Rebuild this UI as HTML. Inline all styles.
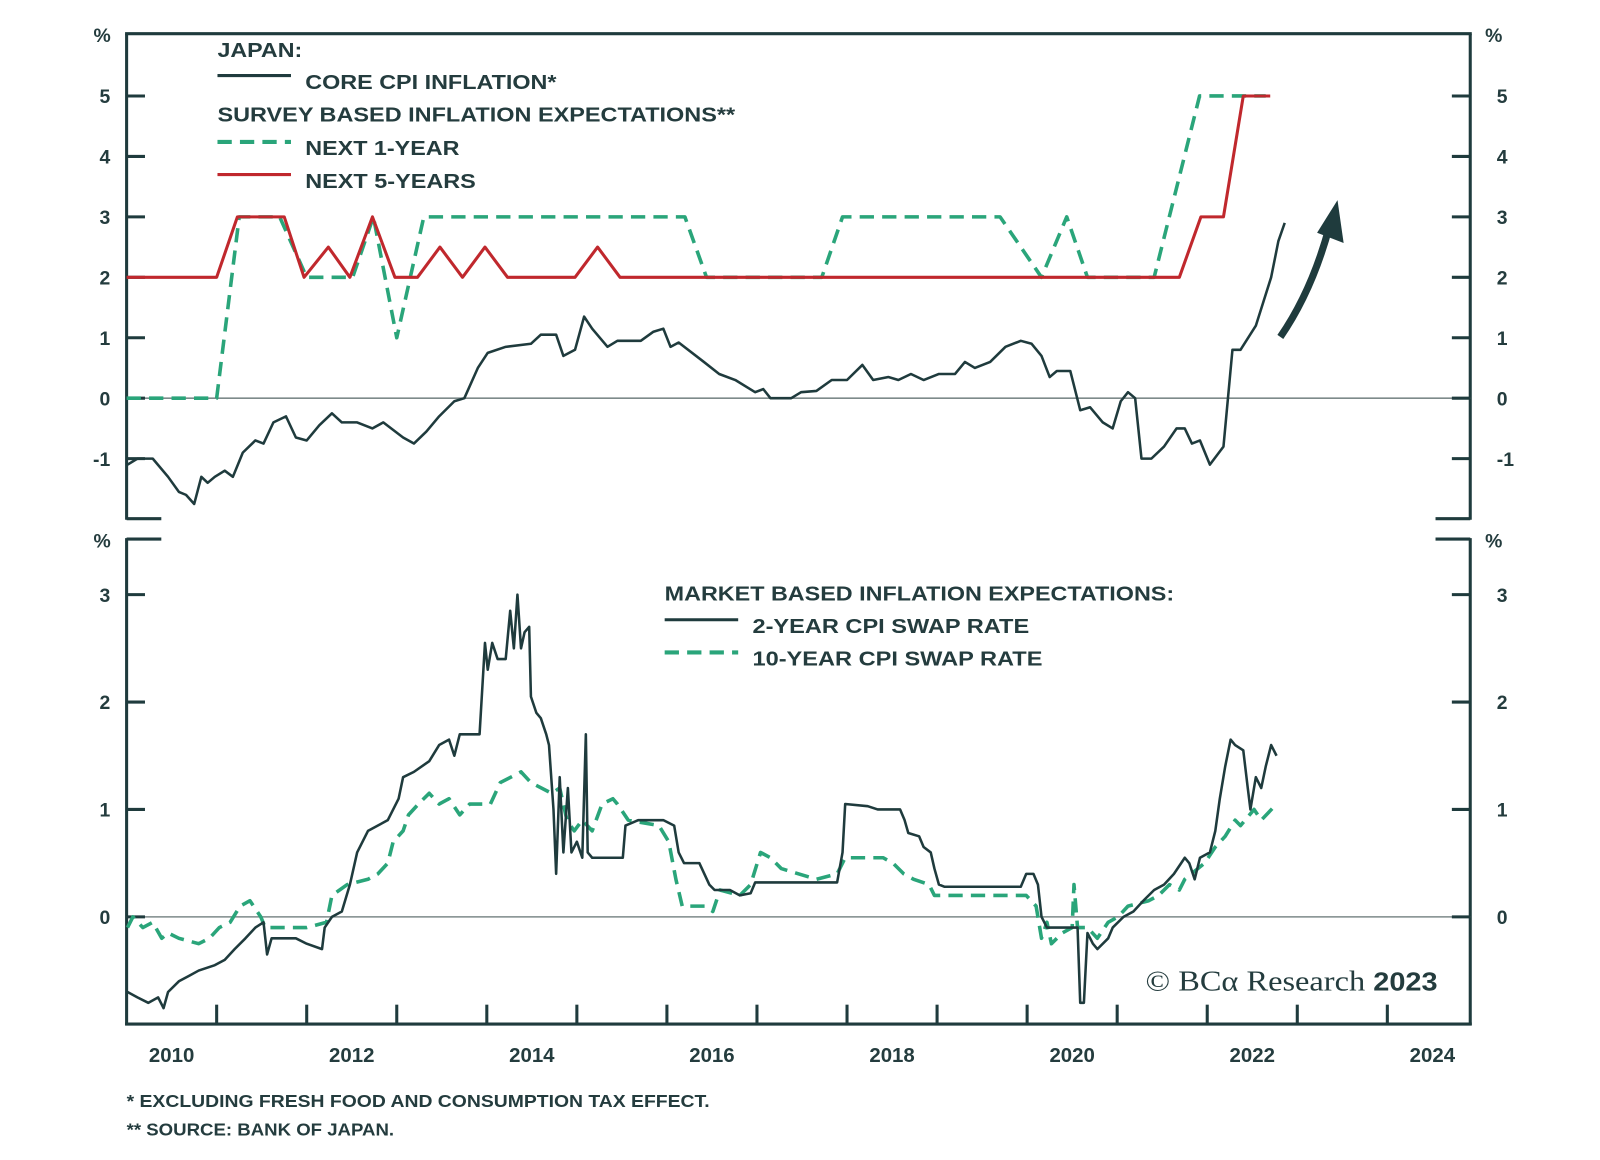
<!DOCTYPE html>
<html><head><meta charset="utf-8">
<style>
html,body{margin:0;padding:0;background:#fff;}
svg{display:block;font-family:"Liberation Sans",sans-serif;}
.t{fill:#243c3e;font-weight:bold;}
</style></head>
<body>
<svg id="chart" width="1600" height="1160" viewBox="0 0 1600 1160" xmlns="http://www.w3.org/2000/svg">
<g transform="scale(1.021)">
<g id="frame"></g>
<g id="marks"></g>
<g id="labels"></g>
<g>
  <text class="t" x="213" y="56" font-size="20" textLength="83" lengthAdjust="spacingAndGlyphs">JAPAN:</text>
  <line x1="213" y1="74" x2="285" y2="74" stroke="#1f3b3d" stroke-width="3"/>
  <text class="t" x="299" y="87" font-size="20" textLength="246" lengthAdjust="spacingAndGlyphs">CORE CPI INFLATION*</text>
  <text class="t" x="213" y="119" font-size="20" textLength="507" lengthAdjust="spacingAndGlyphs">SURVEY BASED INFLATION EXPECTATIONS**</text>
  <line x1="213" y1="139" x2="285" y2="139" stroke="#2aa57a" stroke-width="4" stroke-dasharray="14,8"/>
  <text class="t" x="299" y="152" font-size="20" textLength="151" lengthAdjust="spacingAndGlyphs">NEXT 1-YEAR</text>
  <line x1="213" y1="171" x2="285" y2="171" stroke="#c0282d" stroke-width="3"/>
  <text class="t" x="299" y="184" font-size="20" textLength="167" lengthAdjust="spacingAndGlyphs">NEXT 5-YEARS</text>
</g>
<g>
  <text class="t" x="651" y="588" font-size="20" textLength="499" lengthAdjust="spacingAndGlyphs">MARKET BASED INFLATION EXPECTATIONS:</text>
  <line x1="651" y1="607" x2="723" y2="607" stroke="#1f3b3d" stroke-width="3"/>
  <text class="t" x="737" y="620" font-size="20" textLength="271" lengthAdjust="spacingAndGlyphs">2-YEAR CPI SWAP RATE</text>
  <line x1="651" y1="639" x2="723" y2="639" stroke="#2aa57a" stroke-width="4" stroke-dasharray="14,8"/>
  <text class="t" x="737" y="652" font-size="20" textLength="284" lengthAdjust="spacingAndGlyphs">10-YEAR CPI SWAP RATE</text>
</g>
<text x="1122" y="970" font-size="28" fill="#243c3e" font-family="Liberation Serif,serif" textLength="286" lengthAdjust="spacingAndGlyphs">© BCα Research <tspan font-family="Liberation Sans,sans-serif" font-weight="bold" font-size="25">2023</tspan></text>
<text class="t" x="124" y="1084" font-size="17" textLength="571" lengthAdjust="spacingAndGlyphs">*  EXCLUDING FRESH FOOD AND CONSUMPTION TAX EFFECT.</text>
<text class="t" x="124" y="1112" font-size="17" textLength="262" lengthAdjust="spacingAndGlyphs">** SOURCE: BANK OF JAPAN.</text>
<g>
  <path d="M1254,330 Q1285,285 1302,222" fill="none" stroke="#1f3b3d" stroke-width="7"/>
  <polygon points="1310,196 1316,238 1290,228" fill="#1f3b3d"/>
</g>
</g>
</svg>
<script>
// ---- data (t = years since Jan 2010) ----
const cpiT=[0.01,0.12,0.29,0.46,0.58,0.66,0.75,0.83,0.9,0.98,1.09,1.18,1.29,1.43,1.52,1.63,1.77,1.88,2.0,2.14,2.28,2.39,2.56,2.73,2.85,3.07,3.19,3.33,3.47,3.64,3.75,3.9,4.01,4.21,4.49,4.6,4.77,4.85,4.98,5.08,5.17,5.34,5.45,5.71,5.85,5.96,6.04,6.13,6.41,6.58,6.76,6.98,7.07,7.15,7.38,7.49,7.66,7.83,8.0,8.17,8.29,8.46,8.57,8.71,8.85,9.02,9.2,9.31,9.42,9.59,9.76,9.93,10.05,10.16,10.25,10.33,10.48,10.59,10.7,10.84,10.95,11.04,11.12,11.2,11.27,11.38,11.52,11.66,11.75,11.83,11.92,12.03,12.18,12.28,12.37,12.54,12.71,12.79,12.86];
const cpiV=[-1.1,-1.0,-1.0,-1.3,-1.55,-1.6,-1.75,-1.3,-1.4,-1.3,-1.2,-1.3,-0.9,-0.7,-0.75,-0.4,-0.3,-0.65,-0.7,-0.45,-0.25,-0.4,-0.4,-0.5,-0.4,-0.65,-0.75,-0.55,-0.3,-0.05,0.0,0.5,0.75,0.85,0.9,1.05,1.05,0.7,0.8,1.35,1.15,0.85,0.95,0.95,1.1,1.15,0.85,0.92,0.6,0.4,0.3,0.1,0.15,0.0,0.0,0.1,0.12,0.3,0.3,0.55,0.3,0.35,0.3,0.4,0.3,0.4,0.4,0.6,0.5,0.6,0.85,0.95,0.9,0.7,0.35,0.45,0.45,-0.2,-0.15,-0.4,-0.5,-0.05,0.1,0.0,-1.0,-1.0,-0.8,-0.5,-0.5,-0.75,-0.7,-1.1,-0.8,0.8,0.8,1.2,2.0,2.6,2.9];
const y1T=[0,1.0,1.25,1.7,2.0,2.51,2.74,3.0,3.3,6.2,6.44,7.72,7.95,9.7,10.16,10.44,10.67,11.41,11.915,12.65];
const y1V=[0,0,3,3,2,2,3,1,3,3,2,2,3,3,2,3,2,2,5,5];
const y5T=[0,1.0,1.23,1.75,1.97,2.24,2.48,2.73,2.98,3.23,3.48,3.73,3.98,4.23,4.98,5.23,5.48,11.69,11.93,12.18,12.4,12.7];
const y5V=[2,2,3,3,2,2.5,2,3,2,2,2.5,2,2.5,2,2,2.5,2,2,3,3,5,5];
const s2T=[0.01,0.12,0.24,0.35,0.41,0.46,0.58,0.69,0.8,0.98,1.09,1.2,1.32,1.43,1.52,1.56,1.61,1.88,2.0,2.17,2.2,2.28,2.39,2.48,2.56,2.68,2.9,3.02,3.07,3.19,3.36,3.47,3.58,3.64,3.7,3.92,3.98,4.01,4.06,4.12,4.21,4.26,4.3,4.34,4.38,4.42,4.47,4.49,4.55,4.6,4.66,4.69,4.74,4.77,4.81,4.85,4.9,4.94,5.0,5.06,5.1,5.12,5.17,5.51,5.54,5.68,5.96,6.08,6.13,6.19,6.36,6.47,6.53,6.7,6.81,6.93,6.98,7.89,7.95,7.98,8.23,8.34,8.59,8.64,8.68,8.8,8.85,8.93,8.97,9.02,9.08,9.93,9.99,10.07,10.12,10.16,10.22,10.56,10.59,10.63,10.67,10.73,10.78,10.9,10.95,11.07,11.18,11.29,11.41,11.52,11.63,11.75,11.8,11.86,11.92,12.03,12.09,12.14,12.2,12.26,12.31,12.4,12.45,12.48,12.54,12.6,12.65,12.71,12.77];
const s2V=[-0.7,-0.75,-0.8,-0.75,-0.85,-0.7,-0.6,-0.55,-0.5,-0.45,-0.4,-0.3,-0.2,-0.1,-0.05,-0.35,-0.2,-0.2,-0.25,-0.3,-0.1,0.0,0.05,0.3,0.6,0.8,0.9,1.1,1.3,1.35,1.45,1.6,1.65,1.5,1.7,1.7,2.55,2.3,2.55,2.4,2.4,2.85,2.5,3.0,2.5,2.65,2.7,2.05,1.9,1.85,1.7,1.6,1.0,0.4,1.3,0.6,1.2,0.6,0.7,0.55,1.7,0.6,0.55,0.55,0.85,0.9,0.9,0.85,0.6,0.5,0.5,0.3,0.25,0.25,0.2,0.22,0.32,0.32,0.6,1.05,1.03,1.0,1.0,0.9,0.78,0.75,0.65,0.6,0.45,0.3,0.28,0.28,0.4,0.4,0.3,0.0,-0.1,-0.1,-0.8,-0.8,-0.15,-0.25,-0.3,-0.2,-0.1,0.0,0.05,0.15,0.25,0.3,0.4,0.55,0.5,0.35,0.55,0.6,0.8,1.1,1.4,1.65,1.6,1.55,1.2,1.0,1.3,1.2,1.4,1.6,1.5];
const s10T=[0.01,0.07,0.18,0.29,0.39,0.46,0.58,0.8,0.92,1.03,1.15,1.26,1.37,1.49,1.54,2.0,2.22,2.28,2.45,2.68,2.79,2.9,2.96,3.07,3.13,3.24,3.36,3.47,3.58,3.7,3.81,4.04,4.15,4.38,4.49,4.72,4.81,4.89,4.97,5.06,5.17,5.28,5.4,5.45,5.57,5.91,6.02,6.1,6.17,6.42,6.51,6.59,6.81,6.93,7.04,7.15,7.27,7.66,7.89,7.98,8.4,8.51,8.63,8.74,8.91,8.97,9.99,10.1,10.16,10.22,10.27,10.39,10.5,10.52,10.56,10.67,10.78,10.9,11.01,11.12,11.35,11.46,11.58,11.69,11.75,11.97,12.09,12.2,12.31,12.37,12.52,12.6,12.77];
const s10V=[-0.1,0.0,-0.1,-0.05,-0.2,-0.15,-0.2,-0.25,-0.2,-0.1,-0.05,0.1,0.15,0.0,-0.1,-0.1,-0.05,0.2,0.3,0.35,0.4,0.5,0.7,0.8,0.95,1.05,1.15,1.05,1.1,0.95,1.05,1.05,1.25,1.35,1.25,1.15,1.2,0.9,0.8,0.9,0.8,1.05,1.1,1.05,0.9,0.85,0.7,0.35,0.1,0.1,0.05,0.25,0.2,0.3,0.6,0.55,0.45,0.35,0.4,0.55,0.55,0.5,0.4,0.35,0.3,0.2,0.2,0.1,-0.2,-0.05,-0.25,-0.15,-0.1,0.3,-0.1,-0.1,-0.2,-0.05,0.0,0.1,0.15,0.2,0.3,0.25,0.35,0.5,0.65,0.75,0.9,0.85,1.0,0.9,1.05];
const topTicks=[5,4,3,2,1,0,-1];
const botTicks=[3,2,1,0];
const yearLabels=[2010,2012,2014,2016,2018,2020,2022,2024];

// ---- axes ----
const L=124,R=1440,startYear=2010,pxPerYear=88.2;
function xS(t){return L+t*pxPerYear;}
function yTop(v){return 390-v*59.2;}
function yBot(v){return 898-v*105.2;}
const NS="http://www.w3.org/2000/svg";
function mk(tag,parent,attrs){const e=document.createElementNS(NS,tag);for(const k in attrs)e.setAttribute(k,attrs[k]);parent.appendChild(e);return e;}
const frame=document.getElementById('frame'),marks=document.getElementById('marks'),labels=document.getElementById('labels');
const AX='#1f3b3d';
function ln(p,x1,y1,x2,y2,name,w,c){const e=mk('line',p,{x1:x1,y1:y1,x2:x2,y2:y2,stroke:c||AX,'stroke-width':w||3});

return e;}
ln(frame,L-1.5,33,R+1.5,33,'top-panel-top-border');
ln(frame,L,33,L,509,'top-panel-left-axis');
ln(frame,R,33,R,509,'top-panel-right-axis');
ln(frame,L,508,L+34,508,'top-panel-left-bottom-tick');
ln(frame,R-34,508,R,508,'top-panel-right-bottom-tick');
ln(frame,L,527,L,1004,'bottom-panel-left-axis');
ln(frame,R,527,R,1004,'bottom-panel-right-axis');
ln(frame,L,528,L+34,528,'bottom-panel-left-top-tick');
ln(frame,R-34,528,R,528,'bottom-panel-right-top-tick');
ln(frame,L-1.5,1003,R+1.5,1003,'x-axis-line');
ln(frame,L,yTop(0),R,yTop(0),'top-zero-line',1.5,'#7d8a8a');
ln(frame,L,yBot(0),R,yBot(0),'bottom-zero-line',1.5,'#7d8a8a');
function lab(txt,x,y,anchor,size,name){const e=mk('text',labels,{x:x,y:y,'text-anchor':anchor,'font-size':size,fill:'#243c3e','font-weight':'bold'});e.textContent=txt;

return e;}
topTicks.forEach(v=>{const y=yTop(v);
 ln(frame,L,y,L+18,y,'top-left-tick');ln(frame,R-18,y,R,y,'top-right-tick');
 lab(String(v),108,y+7,'end',19,'top-y-tick-label');lab(String(v),1466,y+7,'start',19,'top-right-y-tick-label');});
botTicks.forEach(v=>{const y=yBot(v);
 ln(frame,L,y,L+18,y,'bottom-left-tick');ln(frame,R-18,y,R,y,'bottom-right-tick');
 lab(String(v),108,y+7,'end',19,'bottom-y-tick-label');lab(String(v),1466,y+7,'start',19,'bottom-right-y-tick-label');});
lab('%',100,41,'middle',19,'top-left-unit');lab('%',1463,41,'middle',19,'top-right-unit');
lab('%',100,536,'middle',19,'bottom-left-unit');lab('%',1463,536,'middle',19,'bottom-right-unit');
for(let yr=1;yr<15;yr++){const x=xS(yr);ln(frame,x,1003,x,984,'x-tick');}
yearLabels.forEach(yr=>lab(String(yr),xS(yr-startYear+0.5),1040,'middle',20,'x-tick-label'));
function path(T,V,ys,color,w,dash,name){let d='';for(let i=0;i<T.length;i++)d+=(i?'L':'M')+xS(T[i]).toFixed(1)+','+ys(V[i]).toFixed(1);
 const a={d:d,fill:'none',stroke:color,'stroke-width':w,'stroke-linejoin':'round'};if(dash)a['stroke-dasharray']=dash;
 const e=mk('path',marks,a);
 
 }
path(y1T,y1V,yTop,'#2aa57a',3.5,'14,8','series-next-1-year');
path(y5T,y5V,yTop,'#c0282d',3,null,'series-next-5-years');
path(cpiT,cpiV,yTop,'#1f3b3d',2.5,null,'series-core-cpi');
path(s10T,s10V,yBot,'#2aa57a',3.5,'14,8','series-10-year-swap');
path(s2T,s2V,yBot,'#1f3b3d',2.5,null,'series-2-year-swap');
</script>
</body></html>
